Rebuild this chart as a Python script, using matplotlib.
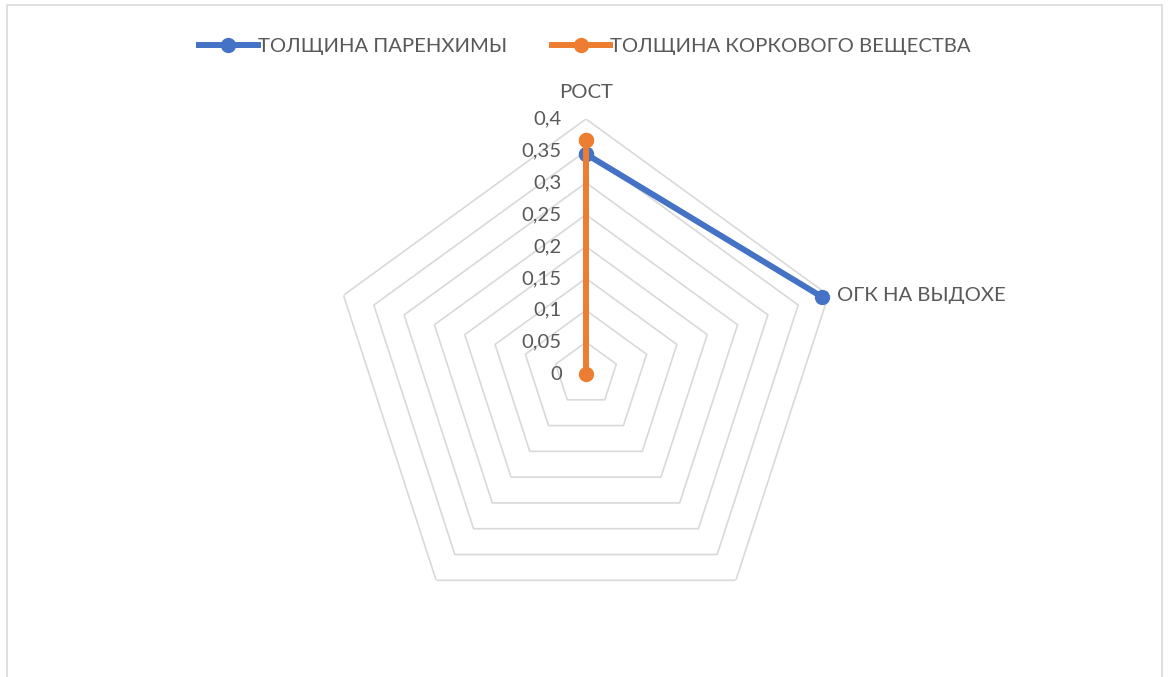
import numpy as np
import matplotlib.pyplot as plt
import matplotlib.transforms as mtransforms

plt.rcParams['font.family'] = ['Lato', 'DejaVu Sans']

# data
categories = ['РОСТ', 'ОГК НА ВЫДОХЕ', '', '', '']
series_names = ['ТОЛЩИНА ПАРЕНХИМЫ', 'ТОЛЩИНА КОРКОВОГО ВЕЩЕСТВА']
parenchyma = [0.345, 0.39, np.nan, np.nan, np.nan]
cortex = [0.367, 0.0, np.nan, np.nan, np.nan]
r_ticks = [0, 0.05, 0.1, 0.15, 0.2, 0.25, 0.3, 0.35, 0.4]
r_tick_labels = ['0', '0,05', '0,1', '0,15', '0,2', '0,25', '0,3', '0,35', '0,4']

BLUE = '#4472C4'
ORANGE = '#ED7D31'
TEXT = '#595959'
GRID = '#D9D9D9'
FS = 14.6

n = len(categories)
angles = np.arange(n) * 2 * np.pi / n
angles_closed = np.append(angles, angles[0])

fig = plt.figure(figsize=(11.7, 6.77), dpi=100)

# light chart-area border (bottom is cut off in the reference)
fig.add_artist(plt.Line2D([0.006, 0.006, 0.9935, 0.9935], [0.0, 0.9925, 0.9925, 0.0],
                          transform=fig.transFigure, color=GRID, lw=1.2))

ax = fig.add_axes([0.2829, 0.0709, 0.4359, 0.7533], projection='polar')
ax.set_theta_offset(np.pi / 2)
ax.set_theta_direction(-1)
ax.set_ylim(0, 0.4)
ax.grid(False)
ax.spines['polar'].set_visible(False)
ax.set_xticks([])
ax.set_yticks([])
ax.patch.set_alpha(0)

# pentagon gridlines
for r in r_ticks[1:]:
    ax.plot(angles_closed, [r] * (n + 1), color=GRID, lw=1.2, zorder=1)

# radial value labels, left of the top axis
off = mtransforms.offset_copy(ax.transData, fig=fig, x=-24, y=0, units='dots')
for r, lab in zip(r_ticks, r_tick_labels):
    ax.text(0, r, lab, transform=off, ha='right', va='center',
            fontsize=FS, color=TEXT)

# category labels
ax.text(0, 0.4, categories[0],
        transform=mtransforms.offset_copy(ax.transData, fig=fig, x=0, y=27, units='dots'),
        ha='center', va='center', fontsize=FS, color=TEXT)
ax.text(angles[1], 0.4, categories[1],
        transform=mtransforms.offset_copy(ax.transData, fig=fig, x=8, y=0, units='dots'),
        ha='left', va='center', fontsize=FS, color=TEXT)

# series
for vals, name, col in [(parenchyma, series_names[0], BLUE),
                        (cortex, series_names[1], ORANGE)]:
    vals_closed = np.append(vals, vals[0])
    ax.plot(angles_closed, vals_closed, color=col, lw=4.3, marker='o',
            markersize=10, label=name, zorder=3, clip_on=False)

fig.legend(loc='center', bbox_to_anchor=(0.5, 0.932), ncol=2, frameon=False,
           fontsize=FS, labelcolor=TEXT, handlelength=2.9, handletextpad=0.0,
           columnspacing=2.2)

fig.savefig('out.png', dpi=100)
